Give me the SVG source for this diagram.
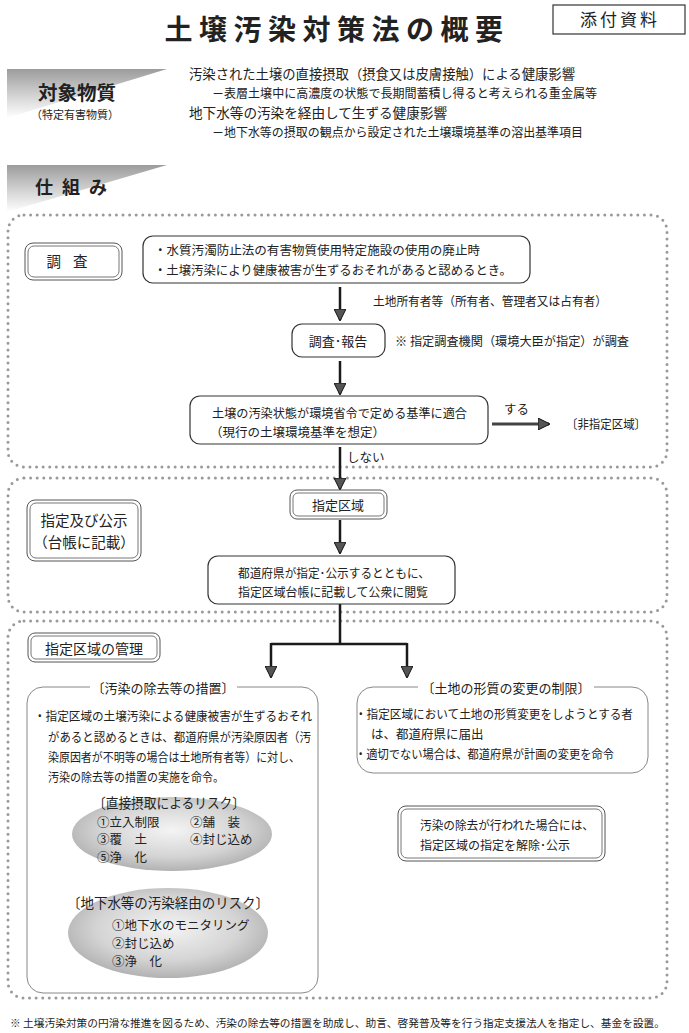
<svg xmlns="http://www.w3.org/2000/svg" width="689" height="1033" viewBox="0 0 689 1033">
<style>
text{font-family:"Noto Sans CJK JP","Noto Sans CJK SC",sans-serif;fill:#222;}
.b{font-size:12.5px;}
.m{font-size:13.5px;}
.sec{fill:none;stroke:#9a9a9a;stroke-width:3;stroke-dasharray:0 6.6;stroke-linecap:round;}
.box{fill:#fff;stroke:#333;stroke-width:1.2;}
.gbox{fill:none;stroke:#888;stroke-width:1;}
.dbl{fill:#fff;stroke:#555;stroke-width:1;}
.dbi{fill:none;stroke:#777;stroke-width:1;}
.con{fill:none;stroke:#1a1a1a;stroke-width:2.5;}
.mid{text-anchor:middle;}
</style>
<defs>
<marker id="ah" viewBox="0 0 12 12" refX="11" refY="6" markerWidth="12" markerHeight="12" markerUnits="userSpaceOnUse" orient="auto">
<path d="M0,0 L12,6 L0,12 z" fill="#555" stroke="#111" stroke-width="1"/>
</marker>
<linearGradient id="ban" x1="0" y1="0" x2="0" y2="1">
<stop offset="0" stop-color="#9c9c9c"/>
<stop offset="0.5" stop-color="#cfcfcf"/>
<stop offset="1" stop-color="#ffffff"/>
</linearGradient>
<radialGradient id="ell" cx="0.5" cy="0.45" r="0.55">
<stop offset="0" stop-color="#f4f4f4"/>
<stop offset="0.65" stop-color="#d4d4d4"/>
<stop offset="1" stop-color="#b2b2b2"/>
</radialGradient>
</defs>

<g id="title">
<text x="337" y="40" class="mid" style="font-size:28px;letter-spacing:6.5px;font-weight:bold">土壌汚染対策法の概要</text>
</g>
<g id="attachment">
<rect x="553" y="5" width="132" height="29" fill="#fff" stroke="#333" stroke-width="1.2"/>
<text x="620" y="26" class="mid" style="font-size:17px;letter-spacing:3px">添付資料</text>
</g>

<g id="banner-substances">
<polygon points="7,69 167,69 7,118" fill="url(#ban)"/>
<text x="77" y="100" class="mid" style="font-size:19.5px;font-weight:bold">対象物質</text>
<text x="75" y="119" class="mid" style="font-size:11px">（特定有害物質）</text>
</g>
<g id="substances-text">
<text x="189" y="79" class="m" textLength="386" lengthAdjust="spacingAndGlyphs">汚染された土壌の直接摂取（摂食又は皮膚接触）による健康影響</text>
<text x="212" y="98" class="b" textLength="385" lengthAdjust="spacingAndGlyphs">－表層土壌中に高濃度の状態で長期間蓄積し得ると考えられる重金属等</text>
<text x="189" y="118" class="m" textLength="258" lengthAdjust="spacingAndGlyphs">地下水等の汚染を経由して生ずる健康影響</text>
<text x="212" y="137" class="b" textLength="371" lengthAdjust="spacingAndGlyphs">－地下水等の摂取の観点から設定された土壌環境基準の溶出基準項目</text>
</g>

<g id="banner-mechanism">
<polygon points="7,165 167,165 7,212" fill="url(#ban)"/>
<text x="35" y="194" style="font-size:18px;letter-spacing:9px;font-weight:bold">仕組み</text>
</g>

<g id="sections">
<rect class="sec" x="8" y="215" width="659" height="252" rx="16"/>
<rect class="sec" x="8" y="478" width="659" height="134" rx="16"/>
<rect class="sec" x="8" y="621" width="659" height="377" rx="16"/>
</g>

<g id="connectors">
<line class="con" x1="340" y1="287" x2="340" y2="320" marker-end="url(#ah)"/>
<line class="con" x1="340" y1="361" x2="340" y2="394" marker-end="url(#ah)"/>
<line class="con" x1="492" y1="424" x2="549" y2="424" marker-end="url(#ah)" style="stroke:#444;stroke-width:3"/>
<line class="con" x1="340" y1="447" x2="340" y2="489" marker-end="url(#ah)"/>
<line class="con" x1="340" y1="520" x2="340" y2="553" marker-end="url(#ah)"/>
<path class="con" d="M340,604 V644 M271,644 H407"/>
<line class="con" x1="271" y1="643" x2="271" y2="677" marker-end="url(#ah)"/>
<line class="con" x1="407" y1="643" x2="407" y2="677" marker-end="url(#ah)"/>
<text x="373" y="306" class="b" textLength="234" lengthAdjust="spacingAndGlyphs">土地所有者等（所有者、管理者又は占有者）</text>
<text x="395" y="346" class="b" textLength="234" lengthAdjust="spacingAndGlyphs">※ 指定調査機関（環境大臣が指定）が調査</text>
<text x="504" y="414" class="b">する</text>
<text x="347" y="462" class="b">しない</text>
</g>

<g id="n-investigation">
<rect class="dbl" x="25" y="243" width="97" height="37" rx="8"/>
<rect class="dbi" x="28" y="246" width="91" height="31" rx="6"/>
<text x="73" y="267" class="mid" style="font-size:14.5px;letter-spacing:12px">調査</text>
</g>

<g id="n-trigger">
<rect class="box" x="143" y="236" width="387" height="47" rx="10"/>
<text x="154" y="255" class="b" textLength="326" lengthAdjust="spacingAndGlyphs">・水質汚濁防止法の有害物質使用特定施設の使用の廃止時</text>
<text x="154" y="275" class="b" textLength="358" lengthAdjust="spacingAndGlyphs">・土壌汚染により健康被害が生ずるおそれがあると認めるとき。</text>
</g>

<g id="n-report">
<rect class="box" x="292" y="324" width="93" height="33" rx="10"/>
<text x="338" y="346" class="mid" style="font-size:13px">調査･報告</text>
</g>

<g id="n-standard">
<rect class="box" x="190" y="396" width="298" height="48" rx="10"/>
<text x="212" y="418" class="b" textLength="255" lengthAdjust="spacingAndGlyphs">土壌の汚染状態が環境省令で定める基準に適合</text>
<text x="210" y="437" class="b">（現行の土壌環境基準を想定）</text>
</g>

<g id="n-nondesignated">
<text x="566" y="429" class="b" textLength="80" lengthAdjust="spacingAndGlyphs">〔非指定区域〕</text>
</g>

<g id="n-designation-label">
<rect class="dbl" x="27" y="500" width="114" height="61" rx="8"/>
<rect class="dbi" x="30" y="503" width="108" height="55" rx="6"/>
<text x="84" y="526" class="mid" style="font-size:14.5px">指定及び公示</text>
<text x="84" y="548" class="mid" style="font-size:14.5px">（台帳に記載）</text>
</g>

<g id="n-designated-area">
<rect class="dbl" x="290" y="490" width="97" height="29" rx="7"/>
<rect class="dbi" x="293" y="493" width="91" height="23" rx="5"/>
<text x="338" y="510" class="mid" style="font-size:13px">指定区域</text>
</g>

<g id="n-public">
<rect class="box" x="208" y="556" width="247" height="48" rx="10"/>
<text x="238" y="578" class="b" textLength="192" lengthAdjust="spacingAndGlyphs">都道府県が指定･公示するとともに、</text>
<text x="238" y="597" class="b" textLength="190" lengthAdjust="spacingAndGlyphs">指定区域台帳に記載して公衆に閲覧</text>
</g>

<g id="n-management-label">
<rect class="dbl" x="28" y="633" width="132" height="29" rx="7"/>
<rect class="dbi" x="31" y="636" width="126" height="23" rx="5"/>
<text x="94" y="654" class="mid" style="font-size:14px">指定区域の管理</text>
</g>

<g id="n-removal">
<rect class="gbox" x="27" y="687" width="291" height="306" rx="16"/>
<rect x="90" y="680" width="147" height="14" fill="#fff"/>
<text x="163" y="693" class="mid" style="font-size:13px">〔汚染の除去等の措置〕</text>
<text x="34" y="721" class="b" textLength="278" lengthAdjust="spacingAndGlyphs">・指定区域の土壌汚染による健康被害が生ずるおそれ</text>
<text x="48" y="742" class="b" textLength="263" lengthAdjust="spacingAndGlyphs">があると認めるときは、都道府県が汚染原因者（汚</text>
<text x="48" y="762" class="b" textLength="252" lengthAdjust="spacingAndGlyphs">染原因者が不明等の場合は土地所有者等）に対し、</text>
<text x="48" y="782" class="b" textLength="176" lengthAdjust="spacingAndGlyphs">汚染の除去等の措置の実施を命令。</text>
</g>

<g id="n-risk-direct">
<ellipse cx="172" cy="834" rx="100" ry="37" fill="url(#ell)"/>
<text x="169" y="808" class="mid" style="font-size:14px" textLength="152" lengthAdjust="spacingAndGlyphs">〔直接摂取によるリスク〕</text>
<text x="97" y="827" class="b">①立入制限</text>
<text x="190" y="827" class="b">②舗　装</text>
<text x="97" y="844" class="b">③覆　土</text>
<text x="190" y="844" class="b">④封じ込め</text>
<text x="97" y="862" class="b">⑤浄　化</text>
</g>

<g id="n-risk-groundwater">
<ellipse cx="168" cy="933" rx="100" ry="45" fill="url(#ell)"/>
<text x="168" y="908" class="mid" style="font-size:14px" textLength="202" lengthAdjust="spacingAndGlyphs">〔地下水等の汚染経由のリスク〕</text>
<text x="112" y="930" class="b">①地下水のモニタリング</text>
<text x="112" y="948" class="b">②封じ込め</text>
<text x="112" y="966" class="b">③浄　化</text>
</g>

<g id="n-change-restriction">
<rect class="gbox" x="357" y="687" width="291" height="86" rx="16"/>
<rect x="418" y="680" width="176" height="14" fill="#fff"/>
<text x="506" y="693" class="mid" style="font-size:13px">〔土地の形質の変更の制限〕</text>
<text x="355" y="719" class="b" textLength="278" lengthAdjust="spacingAndGlyphs">・指定区域において土地の形質変更をしようとする者</text>
<text x="371" y="739" class="b">は、都道府県に届出</text>
<text x="355" y="759" class="b" textLength="259" lengthAdjust="spacingAndGlyphs">・適切でない場合は、都道府県が計画の変更を命令</text>
</g>

<g id="n-release">
<rect class="dbl" x="398" y="806" width="207" height="55" rx="8"/>
<rect class="dbi" x="401" y="809" width="201" height="49" rx="6"/>
<text x="420" y="830" class="b" textLength="174" lengthAdjust="spacingAndGlyphs">汚染の除去が行われた場合には、</text>
<text x="420" y="850" class="b" textLength="150" lengthAdjust="spacingAndGlyphs">指定区域の指定を解除･公示</text>
</g>

<g id="footnote">
<text x="10" y="1027" style="font-size:10.5px" textLength="655" lengthAdjust="spacingAndGlyphs">※ 土壌汚染対策の円滑な推進を図るため、汚染の除去等の措置を助成し、助言、啓発普及等を行う指定支援法人を指定し、基金を設置。</text>
</g>
</svg>
